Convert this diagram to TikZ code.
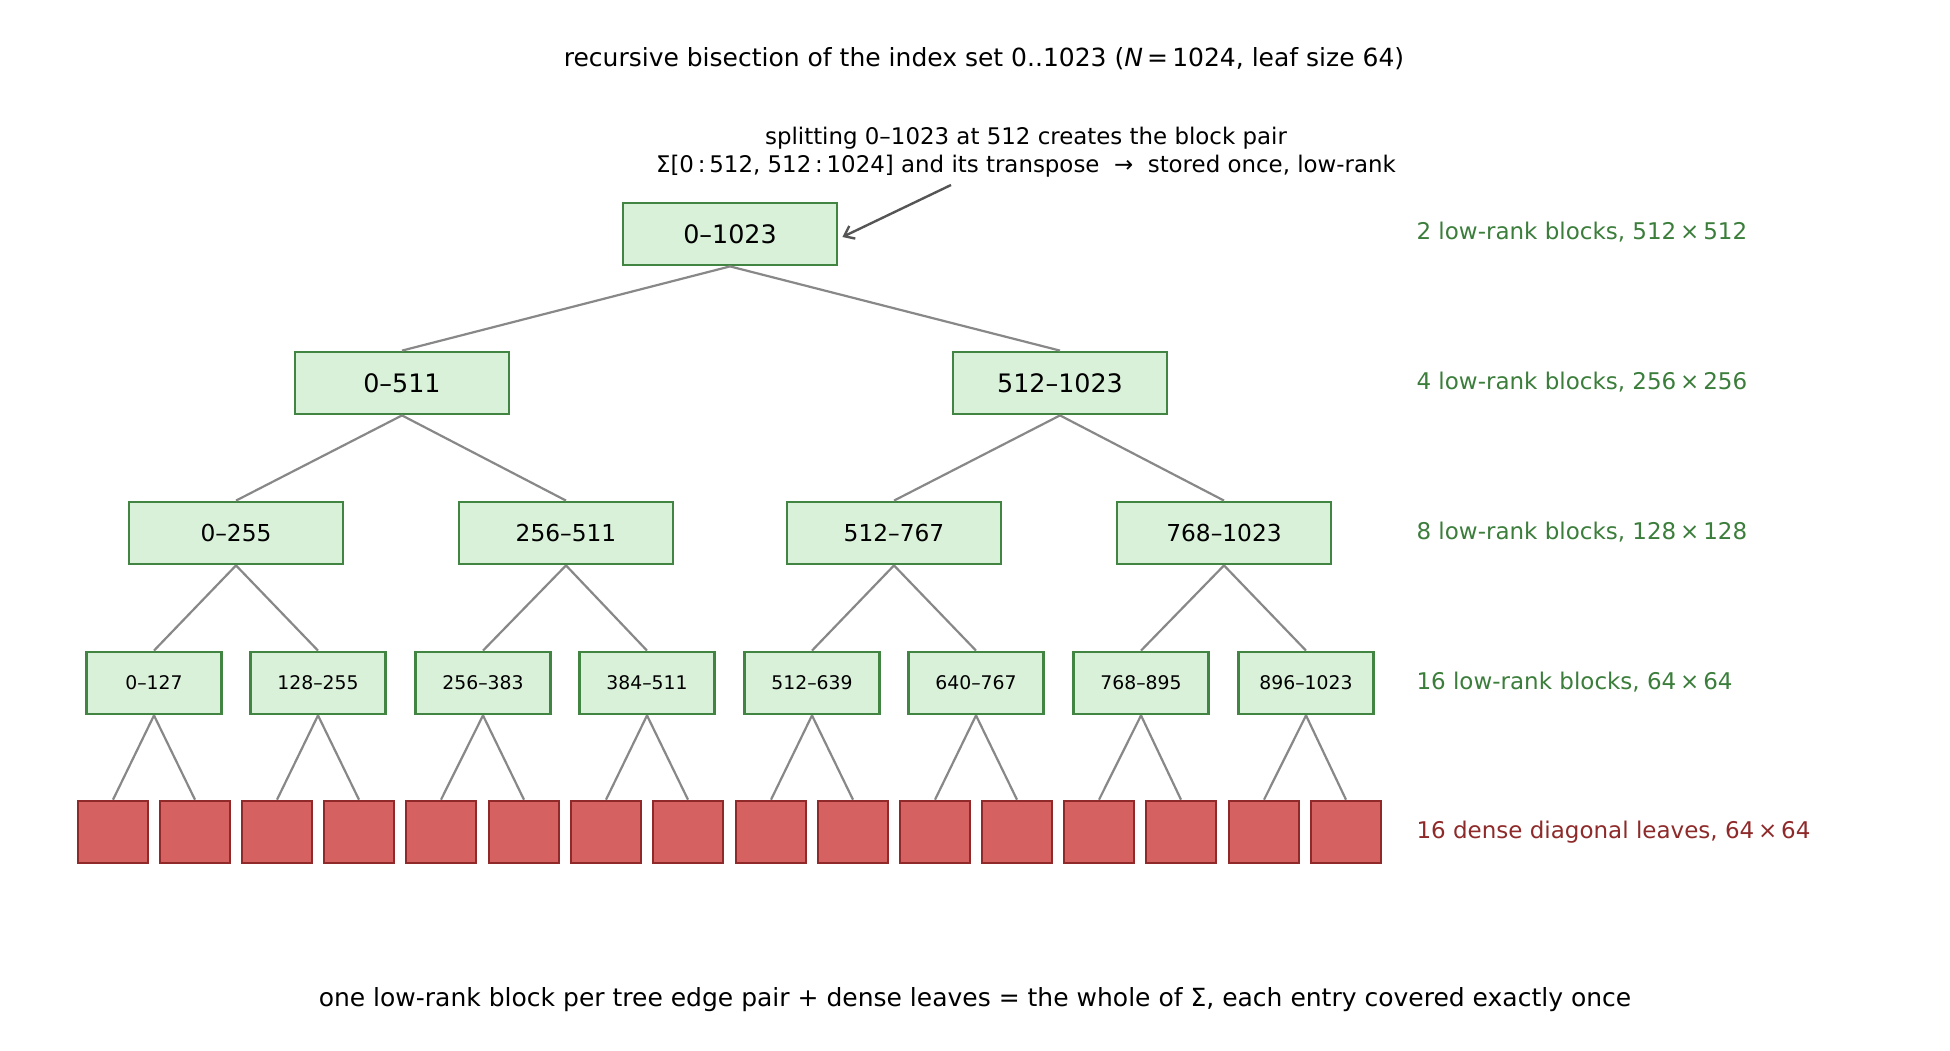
\documentclass[tikz,border=0pt]{standalone}
\usepackage{fontspec}
\setmainfont{DejaVu Sans}
\usetikzlibrary{arrows.meta}
\definecolor{boxfill}{HTML}{D9F0D9}
\definecolor{boxdraw}{HTML}{428442}
\definecolor{leaffill}{HTML}{D66161}
\definecolor{leafdraw}{HTML}{902A2A}
\definecolor{lrtext}{HTML}{3B7D3B}
\definecolor{dntext}{HTML}{8E2A2A}
\definecolor{edgecol}{HTML}{888888}
\definecolor{arrcol}{HTML}{555555}
\tikzset{
  tnode/.style={draw=boxdraw, fill=boxfill, line width=2.8pt, minimum width=214pt, minimum height=62pt, inner sep=0pt, font=\fontsize{25.4}{28}\selectfont},
  tnodeB/.style={tnode, font=\fontsize{23.3}{26}\selectfont},
  tnodeC/.style={tnode, minimum width=135pt, font=\fontsize{18.8}{22}\selectfont},
  leafbox/.style={draw=leafdraw, fill=leaffill, line width=2.6pt, minimum width=70pt, minimum height=62pt, inner sep=0pt},
  tedge/.style={draw=edgecol, line width=2.2pt},
  lvl/.style={anchor=west, text=lrtext, font=\fontsize{23}{26}\selectfont},
  lvlred/.style={lvl, text=dntext},
  plain/.style={font=\fontsize{25}{30}\selectfont, align=center}
}
\begin{document}
\begin{tikzpicture}[x=1pt,y=-1pt]
\useasboundingbox (0,0) rectangle (1950,1050);
\node[plain] (title) at (984,59) {recursive bisection of the index set 0..1023 (\textit{N}\,=\,1024, leaf size 64)};
\node[plain, font=\fontsize{22.9}{28}\selectfont] (annot) at (1026,152) {splitting 0–1023 at 512 creates the block pair\\ Σ[0\,:\,512, 512\,:\,1024] and its transpose ~→~ stored once, low-rank};
\node[tnode] (r) at (730,234) {0–1023};
\node[tnode] (a) at (402,383) {0–511};
\node[tnode] (b) at (1060,383) {512–1023};
\node[tnodeB] (aa) at (236,533) {0–255};
\node[tnodeB] (ab) at (566,533) {256–511};
\node[tnodeB] (ba) at (894,533) {512–767};
\node[tnodeB] (bb) at (1224,533) {768–1023};
\node[tnodeC] (c1) at (154,683) {0–127};
\node[tnodeC] (c2) at (318,683) {128–255};
\node[tnodeC] (c3) at (483,683) {256–383};
\node[tnodeC] (c4) at (647,683) {384–511};
\node[tnodeC] (c5) at (812,683) {512–639};
\node[tnodeC] (c6) at (976,683) {640–767};
\node[tnodeC] (c7) at (1141,683) {768–895};
\node[tnodeC] (c8) at (1306,683) {896–1023};
\foreach \i/\x in {1/113,2/195,3/277,4/359,5/441,6/524,7/606,8/688,9/771,10/853,11/935,12/1017,13/1099,14/1181,15/1264,16/1346}
  \node[leafbox] (l\i) at (\x,832) {};
\draw[tedge] (r.south) -- (a.north);
\draw[tedge] (r.south) -- (b.north);
\draw[tedge] (a.south) -- (aa.north);
\draw[tedge] (a.south) -- (ab.north);
\draw[tedge] (b.south) -- (ba.north);
\draw[tedge] (b.south) -- (bb.north);
\foreach \p/\c in {aa/c1,aa/c2,ab/c3,ab/c4,ba/c5,ba/c6,bb/c7,bb/c8}
  \draw[tedge] (\p.south) -- (\c.north);
\foreach \c/\u/\v in {c1/l1/l2,c2/l3/l4,c3/l5/l6,c4/l7/l8,c5/l9/l10,c6/l11/l12,c7/l13/l14,c8/l15/l16}{
  \draw[tedge] (\c.south) -- (\u.north);
  \draw[tedge] (\c.south) -- (\v.north);
}
\coordinate (atail) at (951,185);
\draw[draw=arrcol, line width=2.4pt, -{Straight Barb[length=9pt,width=14pt]}] (atail) -- ([xshift=4pt,yshift=-3pt]r.east);
\node[lvl] (t1) at (1413,232) {2 low-rank blocks, 512\,×\,512};
\node[lvl] (t2) at (1413,382) {4 low-rank blocks, 256\,×\,256};
\node[lvl] (t3) at (1413,532) {8 low-rank blocks, 128\,×\,128};
\node[lvl] (t4) at (1413,682) {16 low-rank blocks, 64\,×\,64};
\node[lvlred] (t5) at (1413,832) {16 dense diagonal leaves, 64\,×\,64};
\node[plain] (foot) at (975,1000) {one low-rank block per tree edge pair + dense leaves = the whole of Σ, each entry covered exactly once};
\end{tikzpicture}
\end{document}
